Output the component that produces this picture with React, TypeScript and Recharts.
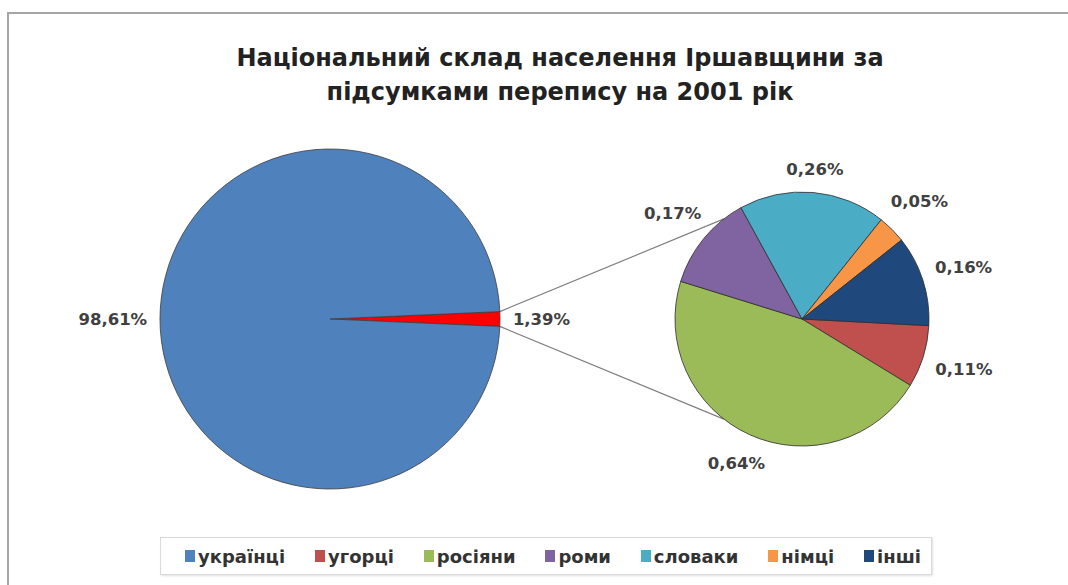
import React from 'react';
import { PieChart, Pie, Cell, Legend } from 'recharts';

// ---- data ----
const legendNames = ['українці', 'угорці', 'росіяни', 'роми', 'словаки', 'німці', 'інші'];
const legendColors = ['#4F81BD', '#C0504D', '#9BBB59', '#8064A2', '#4BACC6', '#F79646', '#1F497D'];

const mainNames = ['інші національності', 'українці'];
const mainValues = [1.39, 98.61];
const mainColors = ['#FF0000', '#4F81BD'];

const detailNames = ['угорці', 'росіяни', 'роми', 'словаки', 'німці', 'інші'];
const detailValues = [0.11, 0.64, 0.17, 0.26, 0.05, 0.16];
const detailColors = ['#C0504D', '#9BBB59', '#8064A2', '#4BACC6', '#F79646', '#1F497D'];

const titleLines = ['Національний склад населення Іршавщини за', 'підсумками перепису на 2001 рік'];

// ---- layout ----
const W = 1068;
const H = 585;
const BIG = { cx: 330, cy: 319, r: 170 };
const SMALL = { cx: 802, cy: 319, r: 127 };
const SMALL_START = -3;
const CONNECT_ANGLE = 52;
const FONT = '"DejaVu Sans", Verdana, sans-serif';
const RAD = Math.PI / 180;

const mainData = mainNames.map((name, i) => ({ name, value: mainValues[i] }));
const detailData = detailNames.map((name, i) => ({ name, value: detailValues[i] }));

const mainTotal = mainValues.reduce((a, b) => a + b, 0);
const mainStart = (mainValues[0] / mainTotal) * 180;

const fmt = (v: number) => v.toFixed(2).replace('.', ',') + '%';

const renderLabel = (props: any) => {
  const { cx, cy, midAngle, outerRadius, value } = props;
  const text = fmt(value);
  const hw = text.length * 5.7;
  const hh = 8;
  const a = -midAngle * RAD;
  const c = Math.cos(a);
  const s = Math.sin(a);
  const R = outerRadius + 13 + Math.abs(c) * hw + Math.abs(s) * hh;
  return (
    <text
      x={cx + R * c}
      y={cy + R * s}
      textAnchor="middle"
      dominantBaseline="central"
      fill="#404040"
      fontFamily={FONT}
      fontWeight="bold"
      fontSize={16.5}
    >
      {text}
    </text>
  );
};

const LegendBox = () => (
  <div
    style={{
      boxSizing: 'border-box',
      width: 772,
      height: 38,
      border: '1px solid #d9d9d9',
      boxShadow: '1px 1px 2px rgba(0,0,0,0.12)',
      display: 'flex',
      alignItems: 'center',
      justifyContent: 'space-between',
      paddingLeft: 24,
      paddingRight: 10,
      fontFamily: FONT,
      fontWeight: 'bold',
      fontSize: 18,
      color: '#333',
      background: '#fff',
    }}
  >
    {legendNames.map((n, i) => (
      <div key={n} style={{ display: 'flex', alignItems: 'center' }}>
        <span
          style={{
            display: 'inline-block',
            width: 10,
            height: 12,
            background: legendColors[i],
            marginRight: 3,
          }}
        />
        <span>{n}</span>
      </div>
    ))}
  </div>
);

export default function App() {
  const bigA = mainStart * RAD;
  const p1 = { x: BIG.cx + BIG.r * Math.cos(bigA), y: BIG.cy - BIG.r * Math.sin(bigA) };
  const p2 = { x: BIG.cx + BIG.r * Math.cos(bigA), y: BIG.cy + BIG.r * Math.sin(bigA) };
  const sA = CONNECT_ANGLE * RAD;
  const q1 = { x: SMALL.cx - SMALL.r * Math.cos(sA), y: SMALL.cy - SMALL.r * Math.sin(sA) };
  const q2 = { x: SMALL.cx - SMALL.r * Math.cos(sA), y: SMALL.cy + SMALL.r * Math.sin(sA) };

  return (
    <div style={{ position: 'absolute', left: 0, top: 0, width: W, height: H, overflow: 'hidden', background: '#fff' }}>
      <div
        style={{
          position: 'absolute',
          left: 7,
          top: 12,
          width: W + 20,
          height: H + 20,
          border: '2px solid #a6a6a6',
        }}
      />
      <div
        style={{
          position: 'absolute',
          left: 0,
          top: 41,
          width: 1120,
          textAlign: 'center',
          fontFamily: FONT,
          fontWeight: 'bold',
          fontSize: 24,
          lineHeight: '34px',
          color: '#222',
        }}
      >
        {titleLines.map((t) => (
          <div key={t}>{t}</div>
        ))}
      </div>
      <svg width={W} height={H} style={{ position: 'absolute', left: 0, top: 0 }}>
        <line x1={p1.x} y1={p1.y} x2={q1.x} y2={q1.y} stroke="#808080" strokeWidth={1.2} />
        <line x1={p2.x} y1={p2.y} x2={q2.x} y2={q2.y} stroke="#808080" strokeWidth={1.2} />
      </svg>
      <div style={{ position: 'absolute', left: 0, top: 0 }}>
        <PieChart width={W} height={H} margin={{ top: 0, right: 0, bottom: 0, left: 0 }}>
          <Pie
            data={mainData}
            dataKey="value"
            nameKey="name"
            cx={BIG.cx}
            cy={BIG.cy}
            outerRadius={BIG.r}
            startAngle={mainStart}
            endAngle={mainStart - 360}
            stroke="#3d3d3d"
            strokeWidth={0.8}
            label={renderLabel}
            labelLine={false}
            isAnimationActive={false}
          >
            {mainData.map((d, i) => (
              <Cell key={d.name} fill={mainColors[i]} />
            ))}
          </Pie>
          <Pie
            data={detailData}
            dataKey="value"
            nameKey="name"
            cx={SMALL.cx}
            cy={SMALL.cy}
            outerRadius={SMALL.r}
            startAngle={SMALL_START}
            endAngle={SMALL_START - 360}
            stroke="#2d2d2d"
            strokeWidth={0.8}
            label={renderLabel}
            labelLine={false}
            isAnimationActive={false}
          >
            {detailData.map((d, i) => (
              <Cell key={d.name} fill={detailColors[i]} />
            ))}
          </Pie>
          <Legend
            content={() => <LegendBox />}
            wrapperStyle={{ position: 'absolute', left: 160, top: 537, width: 772, height: 38, bottom: 'auto' }}
          />
        </PieChart>
      </div>
    </div>
  );
}
